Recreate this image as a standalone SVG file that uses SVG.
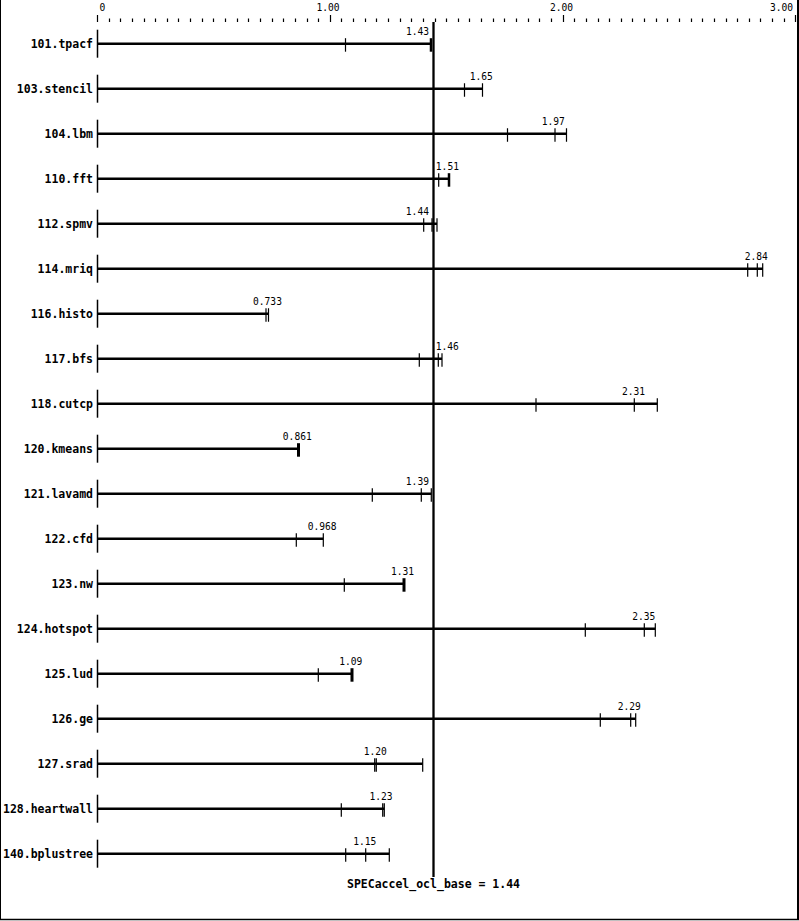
<svg xmlns="http://www.w3.org/2000/svg" width="799" height="921" viewBox="0 0 799 921">
<style>
.lbl{font-family:"DejaVu Sans Mono","Liberation Mono",monospace;font-weight:bold;font-size:11.5px;fill:#000;text-anchor:end}
.val{font-family:"DejaVu Sans Mono","Liberation Mono",monospace;font-size:9.6px;fill:#000;text-anchor:middle}
.bar{stroke:#000;stroke-width:2.6;fill:none}
.ax{stroke:#000;stroke-width:1.5;fill:none}
.tk{stroke:#000;stroke-width:1.2;fill:none}
.tkb{stroke:#000;stroke-width:3;fill:none}
.ref{stroke:#000;stroke-width:2.3;fill:none}
</style>
<rect x="0" y="0" width="799" height="921" fill="#fff"/>
<g id="frame" stroke="#000" fill="none">
<line x1="0.5" y1="0" x2="0.5" y2="920" stroke-width="1"/>
<line x1="798" y1="0" x2="798" y2="920" stroke-width="2"/>
<line x1="0" y1="919.5" x2="799" y2="919.5" stroke-width="1.5"/>
</g>
<g id="axis">
<path class="tk" d="M97.5 15V22M330.5 15V22M563.5 15V22M795.5 15V22"/>
<path class="tk" d="M109.5 18.5V22M120.5 18.5V22M132.5 18.5V22M144.5 18.5V22M155.5 18.5V22M167.5 18.5V22M178.5 18.5V22M190.5 18.5V22M202.5 18.5V22M213.5 18.5V22M225.5 18.5V22M237.5 18.5V22M248.5 18.5V22M260.5 18.5V22M272.5 18.5V22M283.5 18.5V22M295.5 18.5V22M307.5 18.5V22M318.5 18.5V22M341.5 18.5V22M353.5 18.5V22M365.5 18.5V22M376.5 18.5V22M388.5 18.5V22M400.5 18.5V22M411.5 18.5V22M423.5 18.5V22M435.5 18.5V22M446.5 18.5V22M458.5 18.5V22M469.5 18.5V22M481.5 18.5V22M493.5 18.5V22M504.5 18.5V22M516.5 18.5V22M528.5 18.5V22M539.5 18.5V22M551.5 18.5V22M574.5 18.5V22M586.5 18.5V22M598.5 18.5V22M609.5 18.5V22M621.5 18.5V22M632.5 18.5V22M644.5 18.5V22M656.5 18.5V22M667.5 18.5V22M679.5 18.5V22M691.5 18.5V22M702.5 18.5V22M714.5 18.5V22M726.5 18.5V22M737.5 18.5V22M749.5 18.5V22M760.5 18.5V22M772.5 18.5V22M784.5 18.5V22"/>
<text class="val" x="99.5" y="10.5" style="text-anchor:start">0</text>
<text class="val" x="328" y="10.5">1.00</text>
<text class="val" x="561.5" y="10.5">2.00</text>
<text class="val" x="793" y="10.5" style="text-anchor:end">3.00</text>
</g>
<g id="r101">
<text class="lbl" x="93" y="47.7">101.tpacf</text>
<line class="ax" x1="97.5" y1="29.7" x2="97.5" y2="57.7"/>
<line class="bar" x1="97" y1="43.7" x2="431" y2="43.7"/>
<path class="tk" d="M345.5 38.2V51.7"/>
<path class="tkb" d="M431 38.2V51.7" style="stroke-width:2.5"/>
<text class="val" x="417.5" y="34.7">1.43</text>
</g>
<g id="r103">
<text class="lbl" x="93" y="92.7">103.stencil</text>
<line class="ax" x1="97.5" y1="74.7" x2="97.5" y2="102.7"/>
<line class="bar" x1="97" y1="88.7" x2="482.5" y2="88.7"/>
<path class="tk" d="M464.5 83.2V96.7M482.5 83.2V96.7"/>
<text class="val" x="481.3" y="79.7">1.65</text>
</g>
<g id="r104">
<text class="lbl" x="93" y="137.7">104.lbm</text>
<line class="ax" x1="97.5" y1="119.7" x2="97.5" y2="147.7"/>
<line class="bar" x1="97" y1="133.7" x2="566.5" y2="133.7"/>
<path class="tk" d="M507.5 128.2V141.7M555 128.2V141.7M566.5 128.2V141.7"/>
<text class="val" x="553.3" y="124.7">1.97</text>
</g>
<g id="r110">
<text class="lbl" x="93" y="182.7">110.fft</text>
<line class="ax" x1="97.5" y1="164.7" x2="97.5" y2="192.7"/>
<line class="bar" x1="97" y1="178.7" x2="449" y2="178.7"/>
<path class="tk" d="M438.7 173.2V186.7"/>
<path class="tkb" d="M449 173.2V186.7" style="stroke-width:2.5"/>
<text class="val" x="447.4" y="169.7">1.51</text>
</g>
<g id="r112">
<text class="lbl" x="93" y="227.7">112.spmv</text>
<line class="ax" x1="97.5" y1="209.7" x2="97.5" y2="237.7"/>
<line class="bar" x1="97" y1="223.7" x2="437" y2="223.7"/>
<path class="tk" d="M423.7 218.2V231.7M432 218.2V231.7M437 218.2V231.7"/>
<text class="val" x="417.4" y="214.7">1.44</text>
</g>
<g id="r114">
<text class="lbl" x="93" y="272.7">114.mriq</text>
<line class="ax" x1="97.5" y1="254.7" x2="97.5" y2="282.7"/>
<line class="bar" x1="97" y1="268.7" x2="763" y2="268.7"/>
<path class="tk" d="M747.7 263.2V276.7M757.3 263.2V276.7M762.7 263.2V276.7"/>
<text class="val" x="756.3" y="259.7">2.84</text>
</g>
<g id="r116">
<text class="lbl" x="93" y="317.7">116.histo</text>
<line class="ax" x1="97.5" y1="299.7" x2="97.5" y2="327.7"/>
<line class="bar" x1="97" y1="313.7" x2="268.5" y2="313.7"/>
<path class="tk" d="M266 308.2V321.7M268.5 308.2V321.7"/>
<text class="val" x="267.5" y="304.7">0.733</text>
</g>
<g id="r117">
<text class="lbl" x="93" y="362.7">117.bfs</text>
<line class="ax" x1="97.5" y1="344.7" x2="97.5" y2="372.7"/>
<line class="bar" x1="97" y1="358.7" x2="442" y2="358.7"/>
<path class="tk" d="M419.3 353.2V366.7M438.3 353.2V366.7M442 353.2V366.7"/>
<text class="val" x="447.2" y="349.7">1.46</text>
</g>
<g id="r118">
<text class="lbl" x="93" y="407.7">118.cutcp</text>
<line class="ax" x1="97.5" y1="389.7" x2="97.5" y2="417.7"/>
<line class="bar" x1="97" y1="403.7" x2="657.3" y2="403.7"/>
<path class="tk" d="M536 398.2V411.7M634.3 398.2V411.7M657.3 398.2V411.7"/>
<text class="val" x="633.5" y="394.7">2.31</text>
</g>
<g id="r120">
<text class="lbl" x="93" y="452.7">120.kmeans</text>
<line class="ax" x1="97.5" y1="434.7" x2="97.5" y2="462.7"/>
<line class="bar" x1="97" y1="448.7" x2="298.5" y2="448.7"/>
<path class="tkb" d="M298.5 443.2V456.7"/>
<text class="val" x="297.3" y="439.7">0.861</text>
</g>
<g id="r121">
<text class="lbl" x="93" y="497.7">121.lavamd</text>
<line class="ax" x1="97.5" y1="479.7" x2="97.5" y2="507.7"/>
<line class="bar" x1="97" y1="493.7" x2="431.3" y2="493.7"/>
<path class="tk" d="M372.3 488.2V501.7M421.3 488.2V501.7M431.3 488.2V501.7"/>
<text class="val" x="417.4" y="484.7">1.39</text>
</g>
<g id="r122">
<text class="lbl" x="93" y="542.7">122.cfd</text>
<line class="ax" x1="97.5" y1="524.7" x2="97.5" y2="552.7"/>
<line class="bar" x1="97" y1="538.7" x2="323.3" y2="538.7"/>
<path class="tk" d="M296.3 533.2V546.7M323.3 533.2V546.7"/>
<text class="val" x="322.2" y="529.7">0.968</text>
</g>
<g id="r123">
<text class="lbl" x="93" y="587.7">123.nw</text>
<line class="ax" x1="97.5" y1="569.7" x2="97.5" y2="597.7"/>
<line class="bar" x1="97" y1="583.7" x2="404" y2="583.7"/>
<path class="tk" d="M344.3 578.2V591.7"/>
<path class="tkb" d="M404 578.2V591.7"/>
<text class="val" x="402.5" y="574.7">1.31</text>
</g>
<g id="r124">
<text class="lbl" x="93" y="632.7">124.hotspot</text>
<line class="ax" x1="97.5" y1="614.7" x2="97.5" y2="642.7"/>
<line class="bar" x1="97" y1="628.7" x2="655.3" y2="628.7"/>
<path class="tk" d="M585.3 623.2V636.7M644.3 623.2V636.7M655.3 623.2V636.7"/>
<text class="val" x="643.7" y="619.7">2.35</text>
</g>
<g id="r125">
<text class="lbl" x="93" y="677.7">125.lud</text>
<line class="ax" x1="97.5" y1="659.7" x2="97.5" y2="687.7"/>
<line class="bar" x1="97" y1="673.7" x2="352" y2="673.7"/>
<path class="tk" d="M318.3 668.2V681.7"/>
<path class="tkb" d="M352 668.2V681.7"/>
<text class="val" x="350.7" y="664.7">1.09</text>
</g>
<g id="r126">
<text class="lbl" x="93" y="722.7">126.ge</text>
<line class="ax" x1="97.5" y1="704.7" x2="97.5" y2="732.7"/>
<line class="bar" x1="97" y1="718.7" x2="635.7" y2="718.7"/>
<path class="tk" d="M600.3 713.2V726.7M630.7 713.2V726.7M635.7 713.2V726.7"/>
<text class="val" x="629.3" y="709.7">2.29</text>
</g>
<g id="r127">
<text class="lbl" x="93" y="767.7">127.srad</text>
<line class="ax" x1="97.5" y1="749.7" x2="97.5" y2="777.7"/>
<line class="bar" x1="97" y1="763.7" x2="422.7" y2="763.7"/>
<path class="tk" d="M374.7 758.2V771.7M376.3 758.2V771.7M422.7 758.2V771.7"/>
<text class="val" x="375.3" y="754.7">1.20</text>
</g>
<g id="r128">
<text class="lbl" x="93" y="812.7">128.heartwall</text>
<line class="ax" x1="97.5" y1="794.7" x2="97.5" y2="822.7"/>
<line class="bar" x1="97" y1="808.7" x2="384.3" y2="808.7"/>
<path class="tk" d="M341.3 803.2V816.7M382.7 803.2V816.7M384.3 803.2V816.7"/>
<text class="val" x="381" y="799.7">1.23</text>
</g>
<g id="r140">
<text class="lbl" x="93" y="857.7">140.bplustree</text>
<line class="ax" x1="97.5" y1="839.7" x2="97.5" y2="867.7"/>
<line class="bar" x1="97" y1="853.7" x2="389.3" y2="853.7"/>
<path class="tk" d="M345.7 848.2V861.7M365.7 848.2V861.7M389.3 848.2V861.7"/>
<text class="val" x="364.8" y="844.7">1.15</text>
</g>
<g id="connectors">
<line class="ref" x1="433.5" y1="22" x2="433.5" y2="877"/>
</g>
<g id="base">
<text class="lbl" x="433.5" y="888.3" style="text-anchor:middle">SPECaccel_ocl_base = 1.44</text>
</g>
</svg>
